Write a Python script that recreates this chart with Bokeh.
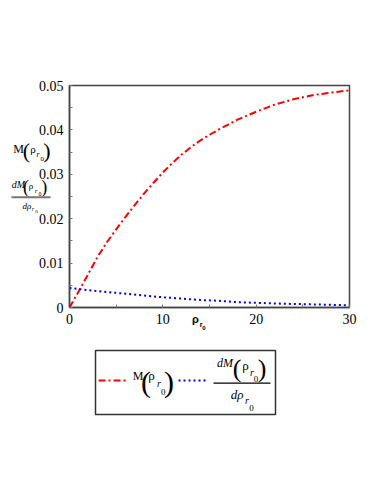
from bokeh.plotting import figure
from bokeh.models import Range1d, FixedTicker, ColumnDataSource
from bokeh.embed import file_html
from bokeh.resources import INLINE

# data
rho = [0, 1, 2, 3, 4, 5, 6, 7, 8, 9, 10, 11, 12, 13, 14, 15, 16, 17, 18,
       19, 20, 22, 24, 26, 28, 30]
M = [0, 0.0037, 0.0075, 0.0114, 0.0147, 0.0176, 0.0204, 0.0231, 0.0257,
     0.0281, 0.0304, 0.0325, 0.0344, 0.0361, 0.0376, 0.0389, 0.0401, 0.0412,
     0.0423, 0.0432, 0.0441, 0.0457, 0.0469, 0.0478, 0.0484, 0.0489]
rho_d = [0, 2, 4, 6, 8, 10, 12, 14, 16, 18, 20, 22, 24, 26, 28, 30]
dM = [0.0044, 0.0039, 0.0035, 0.0031, 0.0027, 0.0023, 0.0020, 0.0017,
      0.0015, 0.0012, 0.00105, 0.0009, 0.0008, 0.0007, 0.0006, 0.0005]
x_ticks = [0, 10, 20, 30]
x_minor = [5, 15, 25]
y_ticks = [0, 0.01, 0.02, 0.03, 0.04, 0.05]
y_minor = [0.005, 0.015, 0.025, 0.035, 0.045]

SERIF = "Liberation Serif"
W, H = 380, 490
p = figure(width=W, height=H, output_backend="svg", toolbar_location=None,
           x_range=Range1d(0, 30), y_range=Range1d(0, 0.05),
           min_border_left=69, min_border_right=W - 69 - 280, min_border_top=85,
           min_border_bottom=H - 85 - 222)
p.grid.visible = False
p.outline_line_color = "#444444"
p.outline_line_width = 1.5

for ax, tk, mn in ((p.xaxis[0], x_ticks, x_minor), (p.yaxis[0], y_ticks, y_minor)):
    ax.ticker = FixedTicker(ticks=tk, minor_ticks=mn)
    ax.major_tick_in = 3
    ax.major_tick_out = 0
    ax.minor_tick_in = 3
    ax.minor_tick_out = 0
    ax.axis_line_color = "#444444"
    ax.axis_line_width = 1.5
    ax.major_tick_line_color = "#777777"
    ax.minor_tick_line_color = "#777777"
    ax.major_label_text_font = SERIF
    ax.major_label_text_font_size = "14px"
    ax.major_label_text_color = "black"
    ax.major_label_standoff = 6
p.xaxis[0].major_label_overrides = {0: "0", 10: "10", 20: "20", 30: "30"}
p.yaxis[0].major_label_overrides = {0: "0", 0.01: "0.01", 0.02: "0.02",
                                    0.03: "0.03", 0.04: "0.04", 0.05: "0.05"}

p.line(rho, M, line_color="red", line_width=2, line_dash="7 3 2 3")
p.line(rho_d, dM, line_color="blue", line_width=2, line_dash="2 3")

# overlay figure (page-pixel coordinates) for the math-style labels and legend
q = figure(width=W, height=H, output_backend="svg", toolbar_location=None,
           x_range=Range1d(0, W), y_range=Range1d(H, 0),
           x_axis_location=None, y_axis_location=None,
           min_border=0, min_border_left=0, min_border_right=0,
           min_border_top=0, min_border_bottom=0, margin=(-H, 0, 0, 0))
q.grid.visible = False
q.outline_line_color = None
q.background_fill_alpha = 0
q.border_fill_alpha = 0

T = dict(x=[], y=[], text=[], size=[], style=[], font=[])

def lab(text, xp, yp, size, style="normal", font=SERIF):
    T["x"].append(xp)
    T["y"].append(yp)
    T["text"].append(text)
    T["size"].append(f"{size}px")
    T["style"].append(style)
    T["font"].append(font)

# x axis label
lab("ρ", 195, 318.5, 11, "bold", "Liberation Sans")
lab("r", 200.5, 323.5, 7, "bold", "Liberation Sans")
lab("0", 203.5, 327.5, 6, "bold", "Liberation Sans")

# y axis label: M(rho_r0)
lab("M", 18, 148, 12)
lab("(", 26, 150, 22)
lab("ρ", 32.5, 148, 11)
lab("r", 37.5, 153.5, 8, "italic")
lab("0", 41.8, 158, 7)
lab(")", 46.5, 150, 22)
# y axis label: fraction
lab("dM", 18, 183.5, 10, "italic")
lab("(", 25.5, 186.5, 18)
lab("ρ", 30.5, 185, 9)
lab("r", 35.5, 190, 7, "italic")
lab("0", 39.5, 193.5, 6)
lab(")", 43.8, 186.5, 18)
lab("dρ", 26.5, 205, 9, "italic")
lab("r", 32.5, 208, 6, "italic")
lab("0", 36, 211, 5)

# legend texts
lab("M", 137.5, 375.5, 12)
lab("(", 145.5, 381, 30)
lab("ρ", 151, 375, 13)
lab("r", 158.5, 383, 10, "italic")
lab("0", 162.8, 391, 9)
lab(")", 168.5, 381, 30)
lab("dM", 224.5, 362.5, 12, "italic")
lab("(", 236.5, 367.5, 26)
lab("ρ", 245, 365, 13)
lab("r", 251.5, 372, 10, "italic")
lab("0", 255.5, 378, 9)
lab(")", 261.5, 367.5, 26)
lab("dρ", 236.5, 394, 13, "italic")
lab("r", 246.5, 400, 10, "italic")
lab("0", 251, 407, 9)

q.text(x="x", y="y", text="text", source=ColumnDataSource(T),
       text_font="font", text_font_size="size", text_font_style="style",
       text_align="center", text_baseline="middle", text_color="black")

# fraction bars
q.segment(x0=[11], y0=[196.7], x1=[50], y1=[196.7], line_color="#777777", line_width=2)
q.segment(x0=[213], y0=[382.7], x1=[270], y1=[382.7], line_color="black", line_width=1.2)
# legend frame and samples
q.quad(left=[95], right=[275], top=[350], bottom=[414], fill_alpha=0,
       line_color="#333333", line_width=1.5)
q.line(x=[98, 126], y=[380, 380], line_color="red", line_width=2, line_dash="7 3 2 3")
q.line(x=[178, 205], y=[380, 380], line_color="blue", line_width=2, line_dash="2 3")

open("out.html", "w").write(file_html([p, q], INLINE))
